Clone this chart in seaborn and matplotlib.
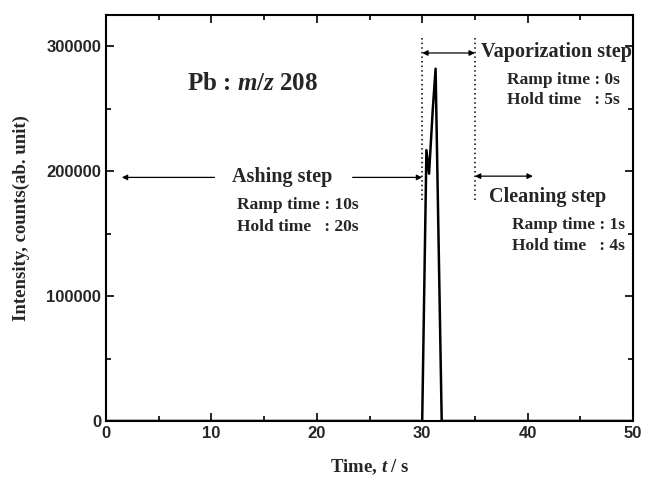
import matplotlib
matplotlib.use("Agg")
import matplotlib.pyplot as plt
import seaborn as sns
import pandas as pd
from matplotlib.ticker import MultipleLocator

# data
time_s = [0, 29.9, 30.0, 30.4, 30.65, 31.0, 31.27, 31.85, 32.0, 50]
intensity = [0, 0, 0, 216800, 198000, 249000, 282000, 0, 0, 0]

x_ticks = [0, 10, 20, 30, 40, 50]
y_ticks = [0, 100000, 200000, 300000]

sns.set_style("ticks")
plt.rcParams['font.family'] = ['Liberation Serif', 'DejaVu Serif']
plt.rcParams['font.weight'] = 'bold'
plt.rcParams['mathtext.fontset'] = 'custom'
plt.rcParams['mathtext.it'] = 'Liberation Serif:italic:bold'
plt.rcParams['mathtext.rm'] = 'Liberation Serif:bold'

df = pd.DataFrame({"t": time_s, "I": intensity})

fig = plt.figure(figsize=(6.45, 4.79), dpi=100)
ax = fig.add_axes([106/645, 58/479, 527/645, 406/479])
sns.lineplot(data=df, x="t", y="I", ax=ax, color="black", lw=1.8, estimator=None, sort=False)

ax.set_xlim(0, 50)
ax.set_ylim(0, 325000)
ax.set_xticks(x_ticks)
ax.set_yticks(y_ticks)
ax.xaxis.set_minor_locator(MultipleLocator(5))
ax.yaxis.set_minor_locator(MultipleLocator(50000))
ax.tick_params(which='both', direction='in', top=True, right=True, width=1.2, color='black')
ax.tick_params(which='major', length=6)
ax.tick_params(which='minor', length=3.5)
for s in ax.spines.values():
    s.set_linewidth(1.5)
    s.set_color('black')
ax.set_xticklabels([str(v) for v in x_ticks], family=['Liberation Sans'], fontweight='bold', fontsize=12)
ax.set_yticklabels([str(v) for v in y_ticks], family=['Liberation Sans'], fontweight='bold', fontsize=12)

ax.set_xlabel(r"Time, $t$ / s", fontsize=13.5, fontweight='bold', labelpad=12)
ax.set_ylabel("Intensity, counts(ab. unit)", fontsize=13.5, fontweight='bold', labelpad=12)

# dotted step boundaries
ax.plot([30, 30], [176800, 306400], ls=(0, (1, 2)), color='black', lw=1.1)
ax.plot([35, 35], [176800, 306400], ls=(0, (1, 2)), color='black', lw=1.1)

arrow = dict(arrowstyle='-|>', color='black', lw=0.9, mutation_scale=8, shrinkA=0, shrinkB=0)
darrow = dict(arrowstyle='<|-|>', color='black', lw=0.9, mutation_scale=8, shrinkA=0, shrinkB=0)

ax.text(7.7, 270400, r"Pb : $m/z$ 208", fontsize=18, fontweight='bold', va='center', ha='left')

# Ashing step
ax.annotate("", xy=(1.5, 195000), xytext=(10.3, 195000), arrowprops=arrow)
ax.annotate("", xy=(30.0, 195000), xytext=(23.4, 195000), arrowprops=arrow)
ax.text(16.75, 195500, "Ashing step", fontsize=14.5, fontweight='bold', ha='center', va='center')
ax.text(12.4, 172800, "Ramp time : 10s", fontsize=12.5, fontweight='bold', ha='left', va='center')
ax.text(12.4, 155200, "Hold time   : 20s", fontsize=12.5, fontweight='bold', ha='left', va='center')

# Vaporization step
ax.annotate("", xy=(30.0, 294600), xytext=(35.0, 294600), arrowprops=darrow)
ax.text(35.6, 295000, "Vaporization step", fontsize=14.5, fontweight='bold', ha='left', va='center')
ax.text(38.0, 272800, "Ramp itme : 0s", fontsize=12.5, fontweight='bold', ha='left', va='center')
ax.text(38.0, 256800, "Hold time   : 5s", fontsize=12.5, fontweight='bold', ha='left', va='center')

# Cleaning step
ax.annotate("", xy=(40.5, 196000), xytext=(35.0, 196000), arrowprops=darrow)
ax.text(36.3, 179200, "Cleaning step", fontsize=14.5, fontweight='bold', ha='left', va='center')
ax.text(38.5, 156800, "Ramp time : 1s", fontsize=12.5, fontweight='bold', ha='left', va='center')
ax.text(38.5, 140000, "Hold time   : 4s", fontsize=12.5, fontweight='bold', ha='left', va='center')

fig.savefig("out.png", dpi=100)
